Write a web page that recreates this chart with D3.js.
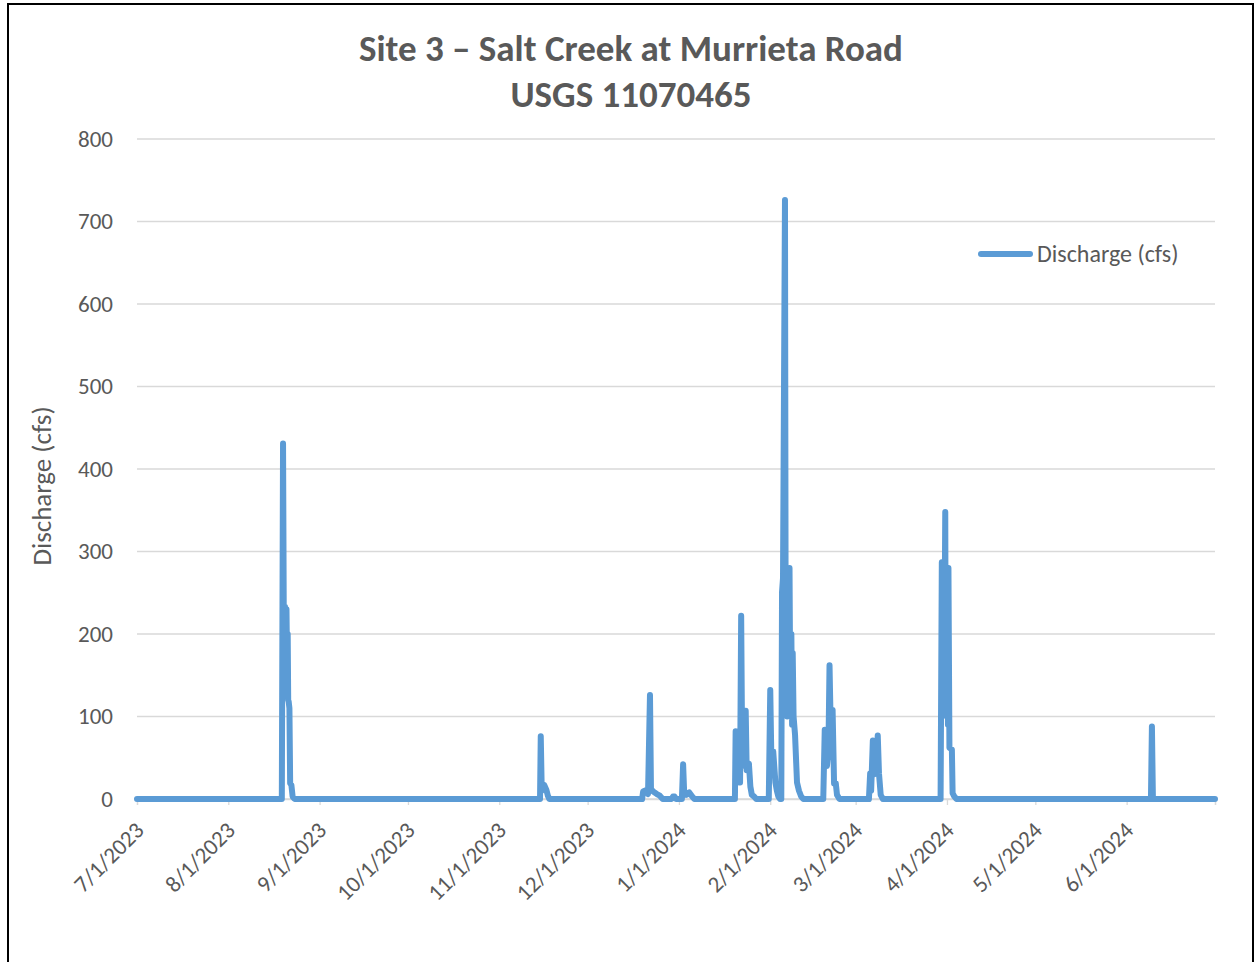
<!DOCTYPE html>
<html>
<head>
<meta charset="utf-8">
<script src="https://cdn.jsdelivr.net/npm/d3@7"></script>
<style>
  body { margin: 0; background: #fff; }
  text { font-family: Carlito, Calibri, Lato, sans-serif; fill: #595959; }
</style>
</head>
<body>
<div id="chart"></div>
<script>
// discharge readings (cfs), one storm per row
const times = [
  "2023-07-01T00",
  "2023-08-19T04", "2023-08-19T14", "2023-08-19T22", "2023-08-20T06", "2023-08-20T12", "2023-08-20T18", "2023-08-21T00", "2023-08-21T04", "2023-08-21T08", "2023-08-21T12", "2023-08-21T18", "2023-08-22T00", "2023-08-22T10", "2023-08-22T20", "2023-08-23T12",
  "2023-11-14T20", "2023-11-15T02", "2023-11-15T10", "2023-11-16T06", "2023-11-17T00", "2023-11-17T12", "2023-11-18T00",
  "2023-12-19T12", "2023-12-19T20", "2023-12-21T00", "2023-12-21T12", "2023-12-22T04", "2023-12-22T12", "2023-12-23T06", "2023-12-24T12", "2023-12-25T12", "2023-12-26T12",
  "2023-12-29T12", "2023-12-30T00", "2023-12-30T12", "2023-12-31T00",
  "2024-01-02T00", "2024-01-02T10", "2024-01-02T18", "2024-01-03T12", "2024-01-04T12", "2024-01-05T12", "2024-01-06T06",
  "2024-01-20T00", "2024-01-20T06", "2024-01-20T18", "2024-01-21T06", "2024-01-21T18", "2024-01-22T03", "2024-01-22T12", "2024-01-23T02", "2024-01-23T16", "2024-01-24T00", "2024-01-24T18", "2024-01-25T06", "2024-01-25T18", "2024-01-26T12", "2024-01-27T06",
  "2024-01-31T12", "2024-02-01T00", "2024-02-01T10", "2024-02-02T00", "2024-02-02T18", "2024-02-03T06", "2024-02-03T18", "2024-02-04T08",
  "2024-02-04T18", "2024-02-05T00", "2024-02-05T08", "2024-02-06T00", "2024-02-06T06", "2024-02-06T12", "2024-02-06T18", "2024-02-07T00", "2024-02-07T06", "2024-02-07T13", "2024-02-07T20", "2024-02-08T04", "2024-02-08T10", "2024-02-08T15", "2024-02-08T22", "2024-02-09T10", "2024-02-10T02", "2024-02-10T18", "2024-02-11T12", "2024-02-12T06",
  "2024-02-19T00", "2024-02-19T12", "2024-02-20T06", "2024-02-20T18", "2024-02-21T03", "2024-02-21T16", "2024-02-22T04", "2024-02-22T16", "2024-02-23T06", "2024-02-23T16", "2024-02-24T12",
  "2024-03-05T12", "2024-03-05T22", "2024-03-06T06", "2024-03-06T20", "2024-03-07T10", "2024-03-08T00", "2024-03-08T12", "2024-03-08T22", "2024-03-09T12", "2024-03-10T06",
  "2024-03-29T20", "2024-03-30T06", "2024-03-30T10", "2024-03-30T14", "2024-03-30T18", "2024-03-30T22", "2024-03-31T04", "2024-03-31T10", "2024-03-31T14", "2024-03-31T18", "2024-03-31T22", "2024-04-01T04", "2024-04-01T08", "2024-04-01T12", "2024-04-01T20", "2024-04-02T16", "2024-04-02T22", "2024-04-03T12", "2024-04-04T06",
  "2024-06-09T06", "2024-06-09T14", "2024-06-09T22",
  "2024-07-01T00"
];
const discharge = [
  0,
  0, 431, 150, 233, 140, 230, 150, 200, 120, 118, 110, 19, 17, 3, 0,
  0, 76, 10, 17, 11, 4, 0,
  0, 9, 11, 6, 126, 12, 9, 6, 4, 0,
  0, 3, 3, 0,
  0, 42, 10, 5, 8, 3, 0,
  0, 82, 30, 60, 20, 222, 40, 65, 107, 35, 43, 15, 5, 3, 0,
  0, 132, 40, 58, 20, 10, 3, 0,
  0, 251, 268, 726, 150, 260, 100, 240, 120, 280, 100, 200, 90, 177, 100, 78, 20, 10, 3, 0,
  0, 84, 40, 60, 162, 60, 108, 19, 19, 5, 0,
  0, 31, 10, 71, 30, 40, 77, 31, 5, 0,
  0, 287, 120, 270, 110, 250, 200, 348, 120, 270, 100, 230, 90, 280, 62, 60, 7, 3, 0,
  0, 88, 0,
  0
];
const yTicks = [0, 100, 200, 300, 400, 500, 600, 700, 800];
const titleLines = ["Site 3 \u2013 Salt Creek at Murrieta Road", "USGS 11070465"];
const yTitle = "Discharge (cfs)";
const seriesName = "Discharge (cfs)";

const W = 1255, H = 962;
const parse = d3.timeParse("%Y-%m-%dT%H");
const data = times.map((t, i) => ({ t: parse(t), v: discharge[i] }));
const start = new Date(2023, 6, 1), end = new Date(2024, 6, 1);
const months = d3.timeMonth.range(start, d3.timeDay.offset(end, 1));
const fmt = d3.timeFormat("%-m/%-d/%Y");

const svg = d3.select("#chart").append("svg").attr("width", W).attr("height", H);

// frame
svg.append("path")
  .attr("d", `M8,${H} V4 H1253 V${H}`)
  .attr("fill", "none").attr("stroke", "#000").attr("stroke-width", 2);

const x = d3.scaleTime().domain([start, end]).range([137, 1215]);
const y = d3.scaleLinear().domain([0, 800]).range([799, 139]);

// gridlines
svg.append("g").selectAll("line").data(yTicks).join("line")
  .attr("x1", 137).attr("x2", 1215)
  .attr("y1", d => y(d)).attr("y2", d => y(d))
  .attr("stroke", "#d9d9d9").attr("stroke-width", 1.3);

// y axis labels
const yAxis = svg.append("g").attr("transform", "translate(137,0)")
  .call(d3.axisLeft(y).tickValues(yTicks).tickSize(0).tickPadding(24));
yAxis.select(".domain").remove();
yAxis.selectAll("text").attr("font-size", 23).style("font-family", null).attr("fill", "#595959");

// x axis
const xAxis = svg.append("g").attr("transform", "translate(0,799)")
  .call(d3.axisBottom(x).tickValues(months).tickSize(6)
    .tickFormat((d, i) => i < months.length - 1 ? fmt(d) : ""));
xAxis.select(".domain").attr("stroke", "#d9d9d9").attr("stroke-width", 1.3);
xAxis.selectAll(".tick line").attr("stroke", "#d9d9d9").attr("stroke-width", 1.3);
xAxis.selectAll("text")
  .attr("font-size", 23).style("font-family", null).attr("fill", "#595959")
  .attr("text-anchor", "end")
  .attr("transform", "translate(2,27) rotate(-45)")
  .attr("dy", "0.35em").attr("y", 0);

// series
const line = d3.line().x(d => x(d.t)).y(d => y(d.v));
svg.append("path").datum(data)
  .attr("d", line)
  .attr("fill", "none").attr("stroke", "#5b9bd5")
  .attr("stroke-width", 6).attr("stroke-linejoin", "round").attr("stroke-linecap", "round");

// title
svg.append("g").selectAll("text").data(titleLines).join("text")
  .attr("x", 631).attr("y", (d, i) => 61 + i * 46)
  .attr("text-anchor", "middle").attr("font-size", 37).attr("font-weight", "bold")
  .text(d => d);

// y title
svg.append("text")
  .attr("transform", "translate(51,486) rotate(-90)")
  .attr("text-anchor", "middle").attr("font-size", 27)
  .text(yTitle);

// legend
svg.append("line").attr("x1", 981).attr("x2", 1030).attr("y1", 254).attr("y2", 254)
  .attr("stroke", "#5b9bd5").attr("stroke-width", 6).attr("stroke-linecap", "round");
svg.append("text").attr("x", 1037).attr("y", 262).attr("font-size", 24).text(seriesName);
</script>
</body>
</html>
